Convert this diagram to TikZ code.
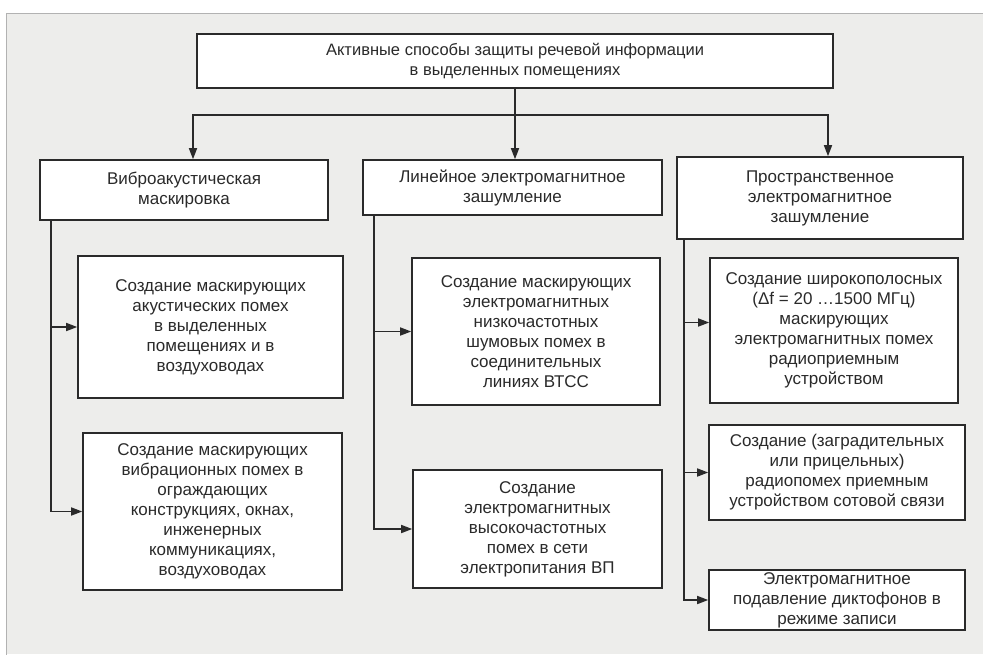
\documentclass[tikz,border=0pt]{standalone}
\usepackage{fontspec}
\setmainfont{Liberation Sans}
\usetikzlibrary{arrows.meta}
\definecolor{paper}{HTML}{EDEDEB}
\definecolor{ink}{HTML}{2A2A2A}
\tikzset{
  box/.style={draw=ink, line width=1.6pt, fill=white, align=center, inner sep=0pt,
    text=ink, font=\fontsize{17}{20}\selectfont},
  wire/.style={draw=ink, line width=1.6pt},
  feed/.style={wire, -{Triangle[length=11pt,width=8pt]}}
}
\begin{document}
\begin{tikzpicture}[x=1pt,y=-1pt]
\useasboundingbox (0,0) rectangle (983,654);
\fill[white] (0,0) rectangle (983,654);
\fill[paper] (6,13) rectangle (983,654);
\draw[black!30, line width=1pt] (6,660) -- (6,13) -- (990,13);

% top level
\node[box, font=\fontsize{16.5}{20}\selectfont, minimum width=636, minimum height=54] (top) at (515,61)
  {Активные способы защиты речевой информации\\в выделенных помещениях};

% three method groups
\node[box, minimum width=288, minimum height=60] (vib) at (184,190)
  {Виброакустическая\\маскировка};
\node[box, minimum width=299, minimum height=55] (lin) at (512.5,187.5)
  {Линейное электромагнитное\\зашумление};
\node[box, minimum width=286, minimum height=82] (spat) at (820,198)
  {Пространственное\\электромагнитное\\зашумление};

% vibro-acoustic measures
\node[box, minimum width=265, minimum height=142] (b2) at (210.5,327)
  {Создание маскирующих\\акустических помех\\в выделенных\\помещениях и в\\воздуховодах};
\node[box, minimum width=259, minimum height=157] (b3) at (212.5,511.5)
  {Создание маскирующих\\вибрационных помех в\\ограждающих\\конструкциях, окнах,\\инженерных\\коммуникациях,\\воздуховодах};

% line noise measures
\node[box, minimum width=248, minimum height=147] (b5) at (536,331.5)
  {Создание маскирующих\\электромагнитных\\низкочастотных\\шумовых помех в\\соединительных\\линиях ВТСС};
\node[box, minimum width=249, minimum height=118] (b6) at (537.5,529)
  {Создание\\электромагнитных\\высокочастотных\\помех в сети\\электропитания ВП};

% spatial noise measures
\node[box, minimum width=248, minimum height=145] (b7) at (834,330.5)
  {Создание широкополосных\\(Δf = 20 …1500 МГц)\\маскирующих\\электромагнитных помех\\радиоприемным\\устройством};
\node[box, minimum width=256, minimum height=95] (b8) at (837,472.5)
  {Создание (заградительных\\или прицельных)\\радиопомех приемным\\устройством сотовой связи};
\node[box, minimum width=256, minimum height=60] (b9) at (837,600)
  {Электромагнитное\\подавление диктофонов в\\режиме записи};

% branching from the top box
\coordinate (br) at (515,115);
\draw[wire] (top.south) -- (br);
\draw[feed] (br) -| ([xshift=9pt]vib.north);
\draw[feed] (br) -- (br |- lin.north);
\draw[feed] (br) -| ([xshift=8pt]spat.north);

% feeders into the measures
\draw[feed] ([xshift=12pt]vib.south west) |- (b2.west);
\draw[feed] ([xshift=12pt]vib.south west) |- (b3.west);
\draw[feed] ([xshift=12pt]lin.south west) |- (b5.west);
\draw[feed] ([xshift=12pt]lin.south west) |- (b6.west);
\draw[feed] ([xshift=8pt]spat.south west) |- ([yshift=8pt]b7.west);
\draw[feed] ([xshift=8pt]spat.south west) |- (b8.west);
\draw[feed] ([xshift=8pt]spat.south west) |- (b9.west);
\end{tikzpicture}
\end{document}
